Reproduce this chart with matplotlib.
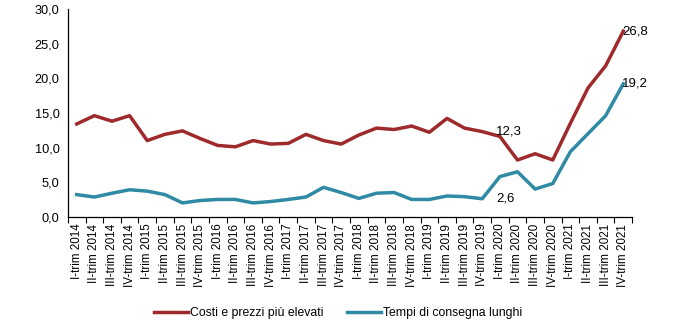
import matplotlib.pyplot as plt
import numpy as np
from matplotlib.ticker import FuncFormatter, FixedLocator

plt.rcParams['font.family'] = ['Liberation Sans', 'DejaVu Sans']

romans = ["I", "II", "III", "IV"]
years = range(2014, 2022)
quarters = [f"{r}-trim {y}" for y in years for r in romans]

costi = [13.4, 14.6, 13.8, 14.6, 11.0, 11.9, 12.4, 11.3,
         10.3, 10.1, 11.0, 10.5, 10.6, 11.9, 11.0, 10.5,
         11.8, 12.8, 12.6, 13.1, 12.2, 14.2, 12.8, 12.3,
         11.6, 8.2, 9.1, 8.2, 13.5, 18.6, 21.8, 26.8]
tempi = [3.2, 2.85, 3.4, 3.9, 3.7, 3.2, 2.0, 2.35,
         2.5, 2.5, 2.0, 2.2, 2.5, 2.85, 4.25, 3.5,
         2.65, 3.4, 3.5, 2.5, 2.5, 3.0, 2.9, 2.6,
         5.8, 6.5, 4.0, 4.8, 9.4, 12.0, 14.6, 19.2]

red = "#9E2A2B"
teal = "#2F8AA3"

fig = plt.figure(figsize=(7, 3.34), dpi=100)
ax = fig.add_axes([0.097, 0.351, 0.806, 0.622])

x = np.arange(len(quarters))
ax.plot(x, costi, color=red, lw=2.5, label="Costi e prezzi più elevati")
ax.plot(x, tempi, color=teal, lw=2.5, label="Tempi di consegna lunghi")

ax.set_xlim(-0.5, len(quarters) - 0.5)
ax.set_ylim(0, 30)
ax.set_yticks(np.arange(0, 31, 5))
ax.yaxis.set_major_formatter(FuncFormatter(lambda v, p: f"{v:.1f}".replace(".", ",")))
ax.tick_params(axis="y", length=0, labelsize=9.2, pad=6)

ax.set_xticks(x)
ax.set_xticklabels(quarters, rotation=90, fontsize=8.4)
ax.xaxis.set_minor_locator(FixedLocator(np.arange(-0.5, len(quarters), 1)))
ax.tick_params(axis="x", which="major", length=0, pad=5)
ax.tick_params(axis="x", which="minor", length=4, width=0.8)

for s in ["top", "right"]:
    ax.spines[s].set_visible(False)
for s in ["left", "bottom"]:
    ax.spines[s].set_linewidth(0.9)

# etichette dati
def lab(i, vals, dx):
    txt = f"{vals[i]:.1f}".replace(".", ",")
    ax.annotate(txt, (x[i], vals[i]), xytext=(dx, 0), textcoords="offset points",
                ha="left", va="center", fontsize=9.5)

lab(23, costi, 10)
lab(23, tempi, 10)
lab(31, costi, -1)
lab(31, tempi, -1)

fig.legend(loc="center", bbox_to_anchor=(0.483, 0.063), ncol=2, frameon=False,
           fontsize=8.8, handlelength=2.8, handletextpad=0.15, columnspacing=1.9)

fig.savefig("out.png", dpi=100)
